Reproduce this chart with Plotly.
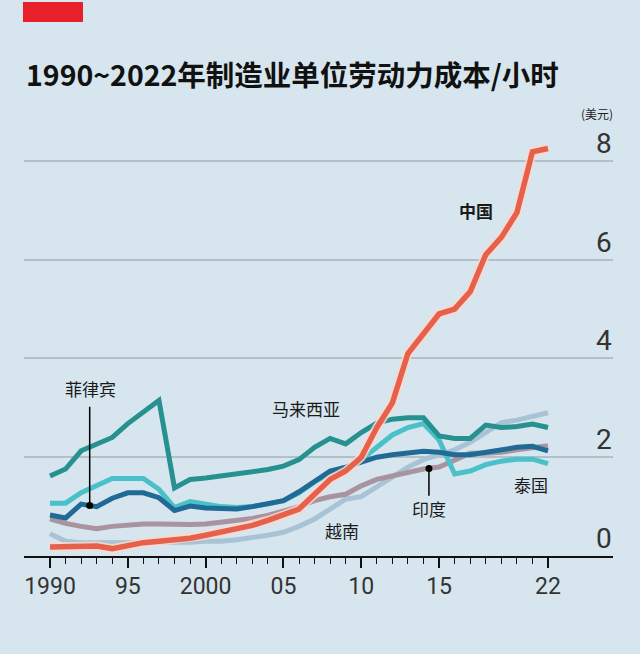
import plotly.graph_objects as go

years = list(range(1990, 2023))

china = [0.18, 0.18, 0.19, 0.20, 0.15, 0.22, 0.27, 0.30, 0.33, 0.36,
         0.42, 0.48, 0.55, 0.62, 0.72, 0.83, 0.95, 1.25, 1.55, 1.72,
         2.00, 2.60, 3.10, 4.10, 4.50, 4.90, 5.00, 5.35, 6.10, 6.45,
         6.95, 8.18, 8.25]
malaysia = [1.62, 1.76, 2.13, 2.27, 2.40, 2.68, 2.93, 3.15, 1.38, 1.55,
            1.58, 1.62, 1.65, 1.70, 1.75, 1.82, 1.95, 2.20, 2.38, 2.27,
            2.50, 2.69, 2.77, 2.80, 2.80, 2.43, 2.38, 2.38, 2.65, 2.60,
            2.62, 2.67, 2.60]
thailand = [1.07, 1.07, 1.28, 1.42, 1.57, 1.57, 1.57, 1.35, 0.98, 1.10,
            1.05, 1.00, 0.98, 1.00, 1.05, 1.12, 1.28, 1.50, 1.68, 1.78,
            1.95, 2.20, 2.45, 2.60, 2.68, 2.35, 1.66, 1.72, 1.85, 1.92,
            1.96, 1.96, 1.87]
philippines = [0.83, 0.77, 1.05, 1.00, 1.17, 1.28, 1.28, 1.18, 0.92, 1.01,
               0.97, 0.95, 0.95, 1.00, 1.05, 1.12, 1.30, 1.52, 1.72, 1.80,
               1.90, 2.00, 2.05, 2.08, 2.12, 2.10, 2.05, 2.05, 2.10, 2.13,
               2.20, 2.22, 2.13]
india = [0.75, 0.66, 0.60, 0.55, 0.60, 0.63, 0.65, 0.65, 0.64, 0.64,
         0.65, 0.68, 0.72, 0.76, 0.82, 0.90, 1.00, 1.12, 1.20, 1.25,
         1.42, 1.55, 1.62, 1.70, 1.76, 1.80, 1.95, 2.08, 2.08, 2.10,
         2.15, 2.20, 2.23]
vietnam = [0.45, 0.30, 0.27, 0.27, 0.27, 0.27, 0.27, 0.27, 0.27, 0.28,
           0.30, 0.30, 0.33, 0.37, 0.42, 0.48, 0.60, 0.75, 0.95, 1.15,
           1.20, 1.40, 1.60, 1.80, 1.95, 2.05, 2.15, 2.30, 2.50, 2.70,
           2.75, 2.82, 2.90]

x_tickvals = [1990, 1995, 2000, 2005, 2010, 2015, 2022]
x_ticktext = ["1990", "95", "2000", "05", "10", "15", "22"]
y_tickvals = [0, 2, 4, 6, 8]
y_ticktext = ["0", "2", "4", "6", "8"]

title = "1990~2022年制造业单位劳动力成本/小时"
unit = "(美元)"

BG = "#d6e5ee"
CJK = "Noto Sans CJK SC"
NUM = "Roboto, sans-serif"

# pixel geometry
W, H = 640, 654
L, R, T, B = 24, 27, 130, 98
x0_px, px_per_year = 50, 15.56
y0_px, px_per_unit = 556, 49.4

xr = [1990 - (x0_px - L) / px_per_year, 2022 + (W - R - 548) / px_per_year]
yr = [0, (y0_px - T) / px_per_unit]

fig = go.Figure()

series = [
    ("越南", vietnam, "#a9c3d6", 5),
    ("印度", india, "#a8939f", 5),
    ("泰国", thailand, "#4ac0c9", 5),
    ("菲律宾", philippines, "#1f6b95", 5),
    ("马来西亚", malaysia, "#27918f", 5),
]
for name, vals, col, w in series:
    fig.add_trace(go.Scatter(x=years, y=vals, mode="lines", name=name,
                             line=dict(color=col, width=w), hoverinfo="skip"))

fig.add_trace(go.Scatter(x=years, y=china, mode="lines", name="halo",
                         line=dict(color="rgba(255,215,205,0.85)", width=9),
                         hoverinfo="skip"))
fig.add_trace(go.Scatter(x=years, y=china, mode="lines", name="中国",
                         line=dict(color="#e5614b", width=5.5), hoverinfo="skip"))

# pointer dots
ph_x, ph_y = 1992.55, philippines[2] - 0.03
in_x, in_y = 2014.35, 1.77
fig.add_trace(go.Scatter(x=[ph_x, in_x], y=[ph_y, in_y], mode="markers",
                         marker=dict(color="black", size=7), hoverinfo="skip"))

shapes = [
    dict(type="line", xref="x", yref="y", x0=ph_x, x1=ph_x, y0=ph_y, y1=3.02,
         line=dict(color="black", width=1.5)),
    dict(type="line", xref="x", yref="y", x0=in_x, x1=in_x, y0=in_y, y1=1.22,
         line=dict(color="black", width=1.5)),
    # red tag at the top left
    dict(type="rect", xref="paper", yref="paper",
         x0=(23 - L) / (W - L - R), x1=(83 - L) / (W - L - R),
         y0=(y0_px - 22) / (y0_px - T), y1=(y0_px - 2) / (y0_px - T),
         fillcolor="#e8202a", line=dict(width=0)),
]

annotations = []
labels = [
    ("中国", 2017.38, 7.0, True),
    ("马来西亚", 2006.45, 2.98, False),
    ("菲律宾", 1992.57, 3.40, False),
    ("印度", 2014.36, 0.97, False),
    ("泰国", 2020.91, 1.44, False),
    ("越南", 2008.77, 0.51, False),
]
for txt, lx, ly, bold in labels:
    annotations.append(dict(
        x=lx, y=ly, xref="x", yref="y", showarrow=False,
        text=f"<b>{txt}</b>" if bold else txt,
        font=dict(family=CJK, size=17, color="#1a1a1a"),
        xanchor="center", yanchor="middle"))

for v, t in zip(y_tickvals, y_ticktext):
    annotations.append(dict(
        x=1, y=v, xref="paper", yref="y", showarrow=False, text=t,
        font=dict(family=NUM, size=28, color="#333333"),
        xanchor="right", yanchor="bottom", yshift=0, borderpad=0))

annotations.append(dict(
    x=(615 - L) / (W - L - R), y=(y0_px - 113) / (y0_px - T),
    xref="paper", yref="paper", showarrow=False, text=unit,
    font=dict(family=CJK, size=12, color="#222222"),
    xanchor="right", yanchor="middle"))

fig.update_layout(
    width=W, height=H,
    margin=dict(l=L, r=R, t=T, b=B, pad=0),
    paper_bgcolor=BG, plot_bgcolor=BG,
    showlegend=False,
    title=dict(text=f"<b>{title}</b>", xref="container", yref="container",
               x=26 / W, y=1 - 76 / H, xanchor="left", yanchor="middle",
               font=dict(family=CJK, size=28.5, color="#111111")),
    shapes=shapes, annotations=annotations,
    xaxis=dict(range=xr, showgrid=False, zeroline=False,
               showline=True, linecolor="#111111", linewidth=2,
               tickmode="array", tickvals=x_tickvals, ticktext=x_ticktext,
               ticks="outside", ticklen=10, tickwidth=1.5, tickcolor="#111111",
               ticklabelstandoff=-2,
               tickfont=dict(family=NUM, size=23, color="#333333"),
               minor=dict(tickmode="array", tickvals=years, ticks="outside",
                          ticklen=6, tickwidth=1.2, tickcolor="#111111",
                          showgrid=False),
               fixedrange=True),
    yaxis=dict(range=yr, showgrid=True, gridcolor="#b3c0c8", gridwidth=2,
               tickmode="array", tickvals=[2, 4, 6, 8], showticklabels=False,
               zeroline=False, showline=False, ticks="", fixedrange=True),
)

fig.write_html("out.html")
